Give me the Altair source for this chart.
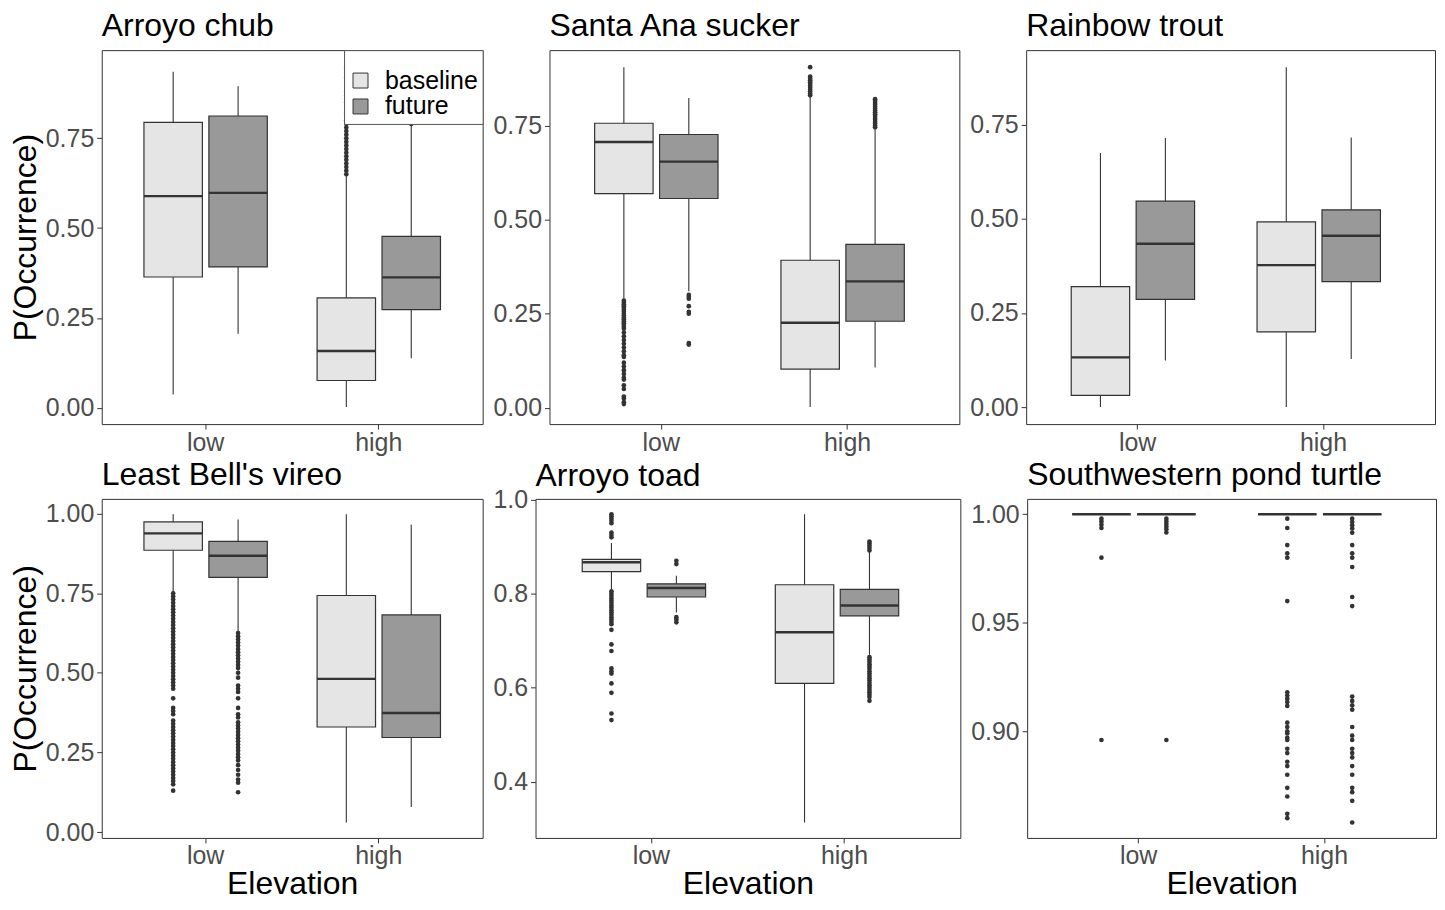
import altair as alt
import pandas as pd

FONT = "Liberation Sans"
ELEV = ["low", "low", "high", "high"]
SCEN = ["baseline", "future", "baseline", "future"]
FILLS = ["#E5E5E5", "#999999"]

# ---- Arroyo chub ----
chub_lower = [0.037, 0.206, 0.002, 0.138]
chub_q1 = [0.364, 0.392, 0.076, 0.273]
chub_median = [0.589, 0.598, 0.158, 0.363]
chub_q3 = [0.794, 0.812, 0.306, 0.477]
chub_upper = [0.935, 0.895, 0.648, 0.785]
chub_out_low_base = []
chub_out_low_fut = []
chub_out_high_base = [0.65, 0.66, 0.67, 0.68, 0.69, 0.70, 0.71, 0.72, 0.73, 0.74, 0.75,
                      0.76, 0.77, 0.78, 0.79, 0.80, 0.81, 0.82, 0.83, 0.84, 0.85, 0.86,
                      0.87, 0.88, 0.89, 0.90, 0.91, 0.92, 0.93, 0.94, 0.948]
chub_out_high_fut = [0.79, 0.80, 0.82]

# ---- Santa Ana sucker ----
sucker_lower = [0.290, 0.310, 0.002, 0.107]
sucker_q1 = [0.569, 0.556, 0.103, 0.230]
sucker_median = [0.706, 0.654, 0.226, 0.336]
sucker_q3 = [0.756, 0.726, 0.392, 0.434]
sucker_upper = [0.905, 0.823, 0.828, 0.740]
sucker_out_low_base = [0.285, 0.28, 0.275, 0.27, 0.265, 0.26, 0.255, 0.25, 0.245, 0.24,
                       0.235, 0.23, 0.225, 0.22, 0.215, 0.21, 0.20, 0.19, 0.18, 0.17,
                       0.16, 0.15, 0.14, 0.135, 0.12, 0.11, 0.10, 0.09, 0.08, 0.075,
                       0.06, 0.05, 0.03, 0.025, 0.015, 0.01]
sucker_out_low_fut = [0.30, 0.295, 0.29, 0.27, 0.255, 0.25, 0.172, 0.168]
sucker_out_high_base = [0.83, 0.835, 0.84, 0.845, 0.85, 0.855, 0.86, 0.865, 0.87, 0.875,
                        0.88, 0.905]
sucker_out_high_fut = [0.745, 0.75, 0.755, 0.76, 0.765, 0.77, 0.775, 0.78, 0.785, 0.79,
                       0.795, 0.80, 0.805, 0.81, 0.815, 0.82]

# ---- Rainbow trout ----
trout_lower = [0.000, 0.124, 0.000, 0.128]
trout_q1 = [0.031, 0.286, 0.200, 0.333]
trout_median = [0.132, 0.434, 0.377, 0.455]
trout_q3 = [0.320, 0.547, 0.492, 0.524]
trout_upper = [0.675, 0.715, 0.903, 0.716]

# ---- Least Bell's vireo ----
vireo_lower = [0.752, 0.628, 0.030, 0.079]
vireo_q1 = [0.885, 0.800, 0.330, 0.297]
vireo_median = [0.938, 0.868, 0.481, 0.374]
vireo_q3 = [0.974, 0.913, 0.743, 0.682]
vireo_upper = [0.998, 0.982, 0.998, 0.965]
vireo_out_low_base = [0.75, 0.74, 0.73, 0.72, 0.71, 0.70, 0.69, 0.68, 0.67, 0.66, 0.65,
                      0.64, 0.63, 0.62, 0.61, 0.60, 0.59, 0.58, 0.57, 0.56, 0.55, 0.54,
                      0.53, 0.52, 0.51, 0.50, 0.49, 0.48, 0.47, 0.46, 0.45, 0.42, 0.39,
                      0.38, 0.37, 0.35, 0.34, 0.33, 0.32, 0.31, 0.30, 0.29, 0.28, 0.27,
                      0.26, 0.25, 0.24, 0.23, 0.22, 0.21, 0.20, 0.19, 0.18, 0.17, 0.16,
                      0.15, 0.13]
vireo_out_low_fut = [0.625, 0.615, 0.605, 0.595, 0.585, 0.575, 0.565, 0.555, 0.545, 0.535,
                     0.525, 0.515, 0.50, 0.485, 0.46, 0.45, 0.44, 0.42, 0.39, 0.37, 0.36,
                     0.345, 0.335, 0.325, 0.315, 0.305, 0.295, 0.285, 0.275, 0.265, 0.255,
                     0.245, 0.235, 0.225, 0.21, 0.195, 0.18, 0.165, 0.155, 0.125]

# ---- Arroyo toad ----
toad_lower = [0.810, 0.760, 0.313, 0.670]
toad_q1 = [0.847, 0.793, 0.609, 0.753]
toad_median = [0.867, 0.812, 0.718, 0.775]
toad_q3 = [0.873, 0.821, 0.819, 0.809]
toad_upper = [0.908, 0.838, 0.969, 0.890]
toad_out_low_base = [0.969, 0.965, 0.96, 0.955, 0.95, 0.93, 0.925, 0.92,
                     0.805, 0.80, 0.795, 0.79, 0.785, 0.78, 0.775, 0.77, 0.765, 0.76,
                     0.755, 0.75, 0.745, 0.74, 0.735, 0.723, 0.692, 0.678, 0.641, 0.635,
                     0.630, 0.609, 0.589, 0.545, 0.531]
toad_out_low_fut = [0.870, 0.863, 0.750, 0.745, 0.739]
toad_out_high_fut = [0.911, 0.907, 0.902, 0.897, 0.892,
                     0.665, 0.66, 0.655, 0.65, 0.645, 0.64, 0.635, 0.63, 0.625, 0.62,
                     0.615, 0.61, 0.605, 0.60, 0.595, 0.59, 0.585, 0.58, 0.572]

# ---- Southwestern pond turtle ----
turtle_lower = [1.0, 1.0, 1.0, 1.0]
turtle_q1 = [1.0, 1.0, 1.0, 1.0]
turtle_median = [1.0, 1.0, 1.0, 1.0]
turtle_q3 = [1.0, 1.0, 1.0, 1.0]
turtle_upper = [1.0, 1.0, 1.0, 1.0]
turtle_out_low_base = [0.998, 0.9967, 0.9952, 0.9937, 0.980, 0.896]
turtle_out_low_fut = [0.998, 0.9967, 0.9955, 0.9943, 0.9931, 0.9916, 0.896]
turtle_out_high_base = [0.998, 0.9937, 0.9858, 0.982, 0.980, 0.960, 0.918, 0.9165, 0.915,
                        0.9135, 0.9117, 0.904, 0.902, 0.900, 0.899, 0.897, 0.896, 0.892,
                        0.890, 0.886, 0.884, 0.880, 0.874, 0.870, 0.862, 0.860]
turtle_out_high_fut = [0.998, 0.9964, 0.9949, 0.9934, 0.9915, 0.9858, 0.982, 0.980,
                       0.9757, 0.9619, 0.9577, 0.916, 0.914, 0.912, 0.910, 0.902, 0.898,
                       0.896, 0.892, 0.890, 0.888, 0.884, 0.880, 0.874, 0.872, 0.868, 0.858]

EMPTY = []


def panel(title, lower, q1, med, q3, upper, outs, width, height, yvals, yfmt,
          ytitle=False, xtitle=False, legend=False, title_offset=7):
    box = pd.DataFrame({"elev": ELEV, "scen": SCEN, "lower": lower, "q1": q1,
                        "median": med, "q3": q3, "upper": upper})
    rows = []
    for i, lst in enumerate(outs):
        for v in lst:
            rows.append({"elev": ELEV[i], "scen": SCEN[i], "value": v})
    pts = pd.DataFrame(rows, columns=["elev", "scen", "value"])

    allv = lower + upper + [v for lst in outs for v in lst]
    lo, hi = min(allv), max(allv)
    pad = 0.05 * (hi - lo)
    ysc = alt.Scale(domain=[lo - pad, hi + pad], nice=False, zero=False)

    x = alt.X("elev:N", sort=["low", "high"],
              scale=alt.Scale(paddingInner=0.25, paddingOuter=0.225),
              axis=alt.Axis(title="Elevation" if xtitle else None, labelAngle=0))
    xo = alt.XOffset("scen:N", sort=["baseline", "future"],
                     scale=alt.Scale(paddingInner=0.1, paddingOuter=0.05))
    yax = alt.Axis(title="P(Occurrence)" if ytitle else None, values=yvals, format=yfmt)

    if legend:
        leg = alt.Legend(orient="top-right", offset=0, title=" ",
                         titleFontSize=10, titlePadding=4, padding=4,
                         fillColor="white", strokeColor="#555555",
                         labelFontSize=25, labelFont=FONT, labelColor="black",
                         labelOffset=12, rowPadding=0,
                         symbolType="square", symbolSize=225, symbolStrokeColor="#333333",
                         symbolStrokeWidth=1, symbolOpacity=1)
    else:
        leg = None
    fill = alt.Fill("scen:N", sort=["baseline", "future"],
                    scale=alt.Scale(domain=["baseline", "future"], range=FILLS), legend=leg)

    base = alt.Chart(box)
    whisk = base.mark_rule(color="#333333", strokeWidth=1.1).encode(
        x=x, xOffset=xo, y=alt.Y("lower:Q", scale=ysc, axis=yax), y2="upper:Q")
    bars = base.mark_bar(stroke="#333333", strokeWidth=1.2).encode(
        x=x, xOffset=xo, y=alt.Y("q1:Q", scale=ysc, axis=yax), y2="q3:Q", fill=fill)
    meds = base.mark_bar(stroke="#333333", strokeWidth=2.4, fillOpacity=0).encode(
        x=x, xOffset=xo, y=alt.Y("median:Q", scale=ysc, axis=yax), y2="median:Q")
    dots = alt.Chart(pts).mark_circle(color="#333333", size=22, opacity=1).encode(
        x=x, xOffset=xo, y=alt.Y("value:Q", scale=ysc, axis=yax))

    return alt.layer(whisk, bars, meds, dots).properties(
        width=width, height=height,
        title=alt.TitleParams(title, anchor="start", frame="group", fontSize=32,
                              fontWeight="normal", color="black", font=FONT,
                              offset=title_offset))


yt = [0, 0.25, 0.5, 0.75]
H1, H2 = 375, 340
p1 = panel("Arroyo chub", chub_lower, chub_q1, chub_median, chub_q3, chub_upper,
           [chub_out_low_base, chub_out_low_fut, chub_out_high_base, chub_out_high_fut],
           382, H1, yt, ".2f", ytitle=True, legend=True)
p2 = panel("Santa Ana sucker", sucker_lower, sucker_q1, sucker_median, sucker_q3, sucker_upper,
           [sucker_out_low_base, sucker_out_low_fut, sucker_out_high_base, sucker_out_high_fut],
           411, H1, yt, ".2f")
p3 = panel("Rainbow trout", trout_lower, trout_q1, trout_median, trout_q3, trout_upper,
           [EMPTY, EMPTY, EMPTY, EMPTY], 410, H1, yt, ".2f")
p4 = panel("Least Bell's vireo", vireo_lower, vireo_q1, vireo_median, vireo_q3, vireo_upper,
           [vireo_out_low_base, vireo_out_low_fut, EMPTY, EMPTY],
           382, H2, [0, 0.25, 0.5, 0.75, 1.0], ".2f", ytitle=True, xtitle=True)
p5 = panel("Arroyo toad", toad_lower, toad_q1, toad_median, toad_q3, toad_upper,
           [toad_out_low_base, toad_out_low_fut, EMPTY, toad_out_high_fut],
           426, H2, [0.4, 0.6, 0.8, 1.0], ".1f", xtitle=True, title_offset=-5.5)
p6 = panel("Southwestern pond turtle", turtle_lower, turtle_q1, turtle_median, turtle_q3,
           turtle_upper,
           [turtle_out_low_base, turtle_out_low_fut, turtle_out_high_base, turtle_out_high_fut],
           410, H2, [0.90, 0.95, 1.00], ".2f", xtitle=True)

row1 = alt.hconcat(p1, p2, p3, spacing=8).resolve_scale(fill="independent")
row2 = alt.hconcat(p4, p5, p6, spacing=8).resolve_scale(fill="independent")

chart = alt.vconcat(row1, row2, spacing=2).resolve_scale(fill="independent").properties(
    padding={"left": 0, "top": 0, "right": 0, "bottom": 0}
).configure_view(
    stroke="#333333", strokeWidth=1
).configure_axis(
    grid=False, domain=False, tickColor="#333333", tickSize=5, labelPadding=3,
    labelFontSize=25, labelColor="#4D4D4D", labelFont=FONT,
    titleFontSize=32, titleColor="black", titleFontWeight="normal", titleFont=FONT
).configure_axisY(titlePadding=3).configure_axisX(titlePadding=0, labelPadding=1)

chart.save("out.html", embed_options={"renderer": "svg", "actions": False})
